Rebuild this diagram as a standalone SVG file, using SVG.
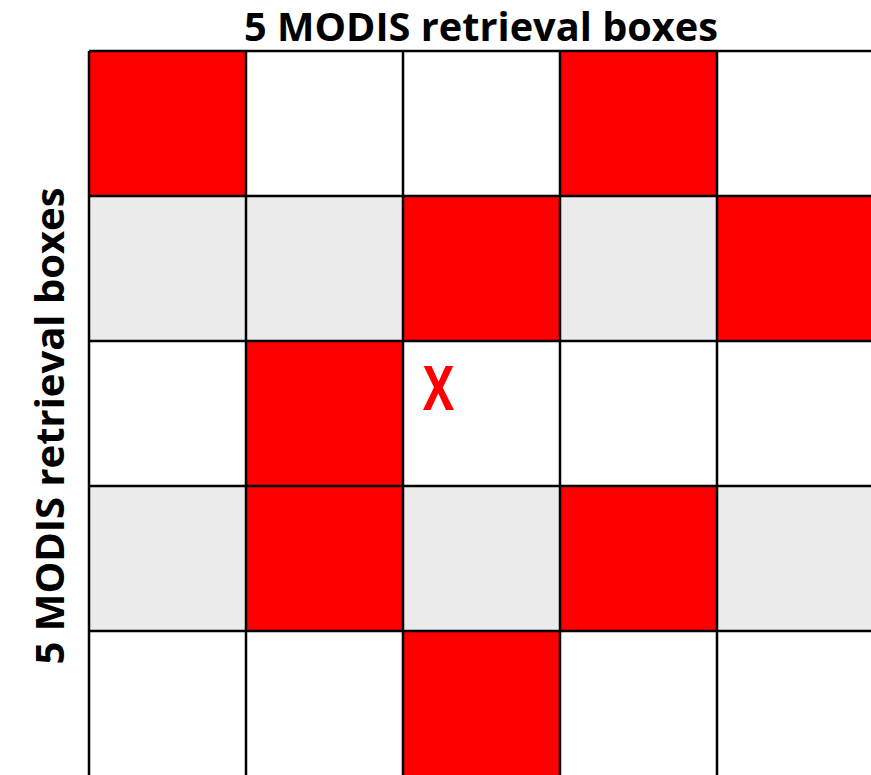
<svg xmlns="http://www.w3.org/2000/svg" width="871" height="775" viewBox="0 0 871 775">
<style>
.w{fill:#ffffff}
.g{fill:#ebebeb}
.r{fill:#ff0000}
.ln{stroke:#000;stroke-width:2.5;fill:none}
.lbl{font-family:"Open Sans","Liberation Sans",sans-serif;font-weight:bold;font-size:39px;fill:#000}
</style>
<rect width="871" height="775" fill="#fff"/>
<g id="cells">
<rect class="w" x="89" y="51" width="785" height="145"/>
<rect class="g" x="89" y="196" width="785" height="145"/>
<rect class="w" x="89" y="341" width="785" height="145"/>
<rect class="g" x="89" y="486" width="785" height="145"/>
<rect class="w" x="89" y="631" width="785" height="145"/>
<rect id="c00" class="r" x="89" y="51" width="157" height="145"/>
<rect id="c03" class="r" x="560" y="51" width="157" height="145"/>
<rect id="c12" class="r" x="403" y="196" width="157" height="145"/>
<rect id="c14" class="r" x="717" y="196" width="157" height="145"/>
<rect id="c21" class="r" x="246" y="341" width="157" height="145"/>
<rect id="c31" class="r" x="246" y="486" width="157" height="145"/>
<rect id="c33" class="r" x="560" y="486" width="157" height="145"/>
<rect id="c42" class="r" x="403" y="631" width="157" height="145"/>
</g>
<g id="gridlines">
<path class="ln" d="M89 51V776M246 51V776M403 51V776M560 51V776M717 51V776M89 51H874M89 196H874M89 341H874M89 486H874M89 631H874"/>
</g>
<g id="labels">
<text class="lbl" x="481" y="41" text-anchor="middle" textLength="474" lengthAdjust="spacingAndGlyphs">5 MODIS retrieval boxes</text>
<text class="lbl" transform="translate(64,426) rotate(-90)" x="0" y="0" text-anchor="middle" textLength="477" lengthAdjust="spacingAndGlyphs">5 MODIS retrieval boxes</text>
<text x="438.5" y="410" text-anchor="middle" font-family="'Open Sans','Liberation Sans',sans-serif" font-weight="bold" font-size="60" fill="#ff0000" textLength="31" lengthAdjust="spacingAndGlyphs">X</text>
</g>
</svg>
